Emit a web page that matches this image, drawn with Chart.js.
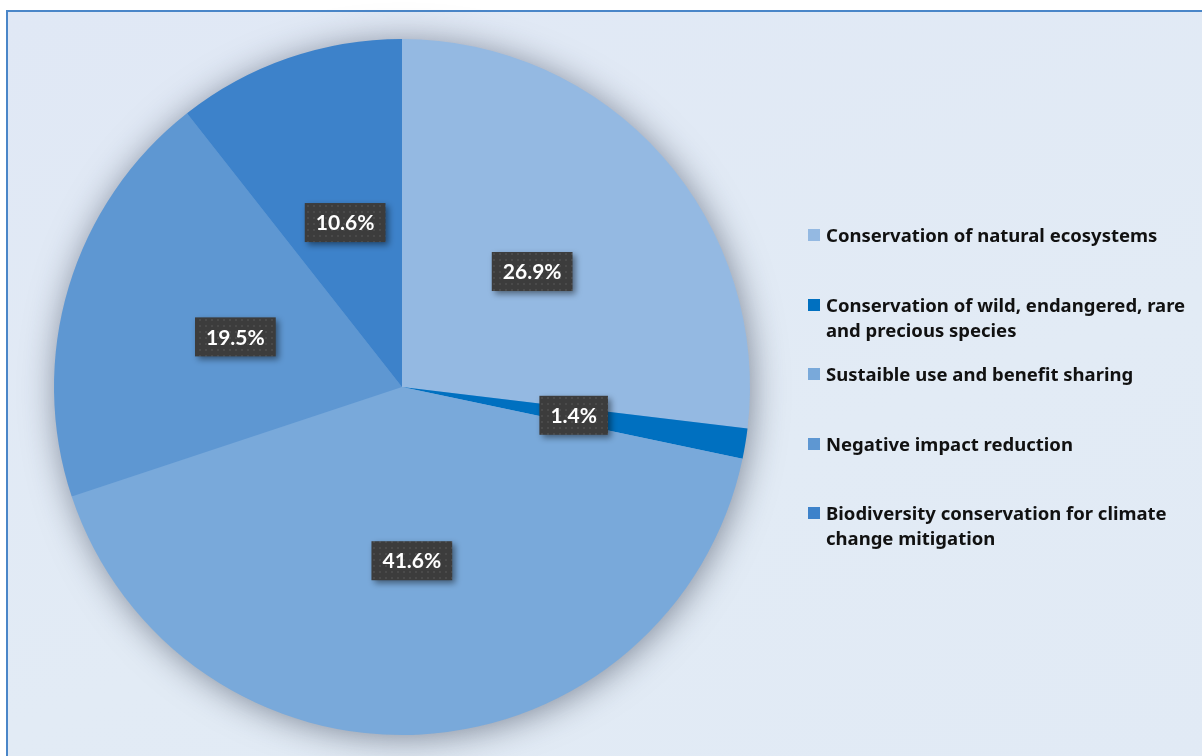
<!DOCTYPE html>
<html>
<head>
<meta charset="utf-8">
<script src="https://cdn.jsdelivr.net/npm/chart.js@4.4.1/dist/chart.umd.min.js"></script>
<style>
    html, body { margin: 0; padding: 0; background: #fff; }
    body { width: 1202px; height: 756px; position: relative; overflow: hidden; }
    #frame {
        position: absolute; left: 6px; top: 10px; width: 1210px; height: 760px;
        border-left: 2px solid #4a86c8; border-top: 2px solid #4a86c8;
        background: linear-gradient(160deg, #e0e8f5 0%, #e2ebf5 60%, #e1eaf5 100%);
    }
    #pieChart { position: absolute; left: 0; top: 0; }
    #legend { position: absolute; left: 808px; top: 222px; width: 392px; }
    .item { position: absolute; left: 0; display: flex; align-items: flex-start; }
    .box { width: 12px; height: 12px; margin-top: 7px; margin-right: 6px; flex: none; }
    .text { font-family: "Noto Sans", "Open Sans", sans-serif; font-weight: 700; font-size: 18.5px; line-height: 25px; color: #111; width: 374px; }
</style>
</head>
<body>
<div id="frame"></div>
<canvas id="pieChart" width="1202" height="756"></canvas>
<div id="legend"></div>
<script>
const categories = [
    'Conservation of natural ecosystems',
    'Conservation of wild, endangered, rare and precious species',
    'Sustaible use and benefit sharing',
    'Negative impact reduction',
    'Biodiversity conservation for climate change mitigation'
];
const shares = [26.9, 1.4, 41.6, 19.5, 10.6];
const sliceColors = ['#94b9e2', '#0070c0', '#79a9da', '#5e97d2', '#3d82ca'];

// soft glow under the whole pie
const pieShadow = {
    id: 'pieShadow',
    beforeDatasetsDraw(chart) {
        const arc = chart.getDatasetMeta(0).data[0];
        if (!arc) return;
        const ctx = chart.ctx;
        ctx.save();
        ctx.shadowColor = 'rgba(40, 50, 70, 0.55)';
        ctx.shadowBlur = 34;
        ctx.shadowOffsetX = 2;
        ctx.shadowOffsetY = 3;
        ctx.fillStyle = '#7aa9da';
        ctx.beginPath();
        ctx.arc(arc.x, arc.y, arc.outerRadius - 1, 0, Math.PI * 2);
        ctx.fill();
        ctx.restore();
    }
};

// dotted dark tile for the value boxes
function makeTile() {
    const c = document.createElement('canvas');
    c.width = 6; c.height = 6;
    const g = c.getContext('2d');
    g.fillStyle = '#3c3c3c';
    g.fillRect(0, 0, 6, 6);
    g.fillStyle = '#4a4a4a';
    g.fillRect(1, 1, 2, 2);
    return c;
}

const valueBoxes = {
    id: 'valueBoxes',
    afterDatasetsDraw(chart) {
        const ctx = chart.ctx;
        const pattern = ctx.createPattern(makeTile(), 'repeat');
        const meta = chart.getDatasetMeta(0);
        ctx.save();
        ctx.font = 'bold 21px Lato, "Open Sans", sans-serif';
        ctx.textAlign = 'center';
        ctx.textBaseline = 'middle';
        meta.data.forEach((arc, i) => {
            const p = arc.getCenterPoint();
            const text = shares[i].toFixed(1) + '%';
            const w = ctx.measureText(text).width + 22;
            const h = 39;
            ctx.save();
            ctx.shadowColor = 'rgba(0, 0, 0, 0.45)';
            ctx.shadowBlur = 6;
            ctx.shadowOffsetX = 3;
            ctx.shadowOffsetY = 3;
            ctx.fillStyle = pattern;
            ctx.fillRect(p.x - w / 2, p.y - h / 2, w, h);
            ctx.restore();
            ctx.fillStyle = '#ffffff';
            ctx.fillText(text, p.x, p.y + 1);
        });
        ctx.restore();
    }
};

const pieChart = new Chart(document.getElementById('pieChart').getContext('2d'), {
    type: 'pie',
    data: {
        labels: categories,
        datasets: [{
            data: shares,
            backgroundColor: sliceColors,
            borderWidth: 0
        }]
    },
    options: {
        responsive: false,
        animation: false,
        layout: {
            padding: { left: 54, right: 452, top: 39, bottom: 21 }
        },
        plugins: {
            legend: { display: false },
            tooltip: { enabled: false }
        }
    },
    plugins: [pieShadow, valueBoxes]
});

// legend on the right, one row per category
const legend = document.getElementById('legend');
categories.forEach((name, i) => {
    const item = document.createElement('div');
    item.className = 'item';
    item.style.top = (i * 69.5) + 'px';
    const box = document.createElement('span');
    box.className = 'box';
    box.style.background = sliceColors[i];
    const text = document.createElement('span');
    text.className = 'text';
    text.textContent = name;
    item.appendChild(box);
    item.appendChild(text);
    legend.appendChild(item);
});
</script>
</body>
</html>
